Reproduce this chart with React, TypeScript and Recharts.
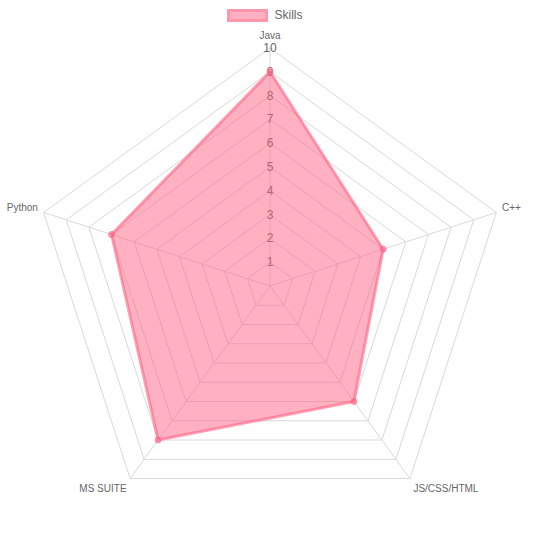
import {
  RadarChart,
  Radar,
  PolarGrid,
  PolarAngleAxis,
  PolarRadiusAxis,
  Legend,
} from 'recharts';

const SKILLS = ['Java', 'C++', 'JS/CSS/HTML', 'MS SUITE', 'Python'];
const SCORES = [9, 5, 6, 8, 7];
const RADIUS_TICKS = [0, 1, 2, 3, 4, 5, 6, 7, 8, 9, 10];

const data = SKILLS.map((skill, i) => ({ skill, score: SCORES[i] }));

const FONT = '"Liberation Sans", Arial, Helvetica, sans-serif';
const CX = 270;
const CY = 286;

// point labels, nudged the way Chart.js places them
function AngleTick(props: any) {
  const { x, y, payload, textAnchor } = props;
  if (textAnchor === 'middle') {
    // top label sits just above the outer tick
    return (
      <text
        x={x}
        y={y - 5}
        textAnchor="middle"
        dominantBaseline="central"
        fontSize={10}
        fontFamily={FONT}
        fill="#666"
      >
        {payload.value}
      </text>
    );
  }
  // pull side labels 2px toward the centre
  const len = Math.hypot(x - CX, y - CY) || 1;
  const px = x - ((x - CX) / len) * 2;
  const py = y - ((y - CY) / len) * 2;
  const dy = py > 400 ? 5 : -3;
  return (
    <text
      x={px}
      y={py + dy}
      textAnchor={textAnchor}
      dominantBaseline="central"
      fontSize={10}
      fontFamily={FONT}
      fill="#666"
    >
      {payload.value}
    </text>
  );
}

// Chart.js paints the tick labels under the dataset, so the inner ones look tinted
function RadiusTick(props: any) {
  const { x, y, payload } = props;
  if (payload.value === 0) return <g />;
  const inside = payload.value <= 9;
  return (
    <text
      x={x}
      y={y}
      textAnchor="middle"
      dominantBaseline="central"
      fontSize={12}
      fontFamily={FONT}
      fill={inside ? '#b26475' : '#666'}
    >
      {payload.value}
    </text>
  );
}

function LegendContent() {
  return (
    <div
      style={{
        display: 'flex',
        alignItems: 'center',
        justifyContent: 'center',
        fontFamily: FONT,
        fontSize: 12,
        color: '#666',
        height: 30,
        paddingRight: 10,
      }}
    >
      <span
        style={{
          display: 'inline-block',
          width: 41,
          height: 13,
          background: 'rgba(255,99,132,0.5)',
          border: '3px solid rgba(255,99,132,0.35)',
          boxSizing: 'border-box',
          marginRight: 6,
        }}
      />
      Skills
    </div>
  );
}

export default function App() {
  return (
    <div style={{ position: 'absolute', left: 0, top: 0 }}>
      <RadarChart
        width={540}
        height={540}
        data={data}
        cx={CX}
        cy={CY}
        outerRadius={238}
        margin={{ top: 0, right: 0, bottom: 0, left: 0 }}
      >
        <PolarGrid gridType="polygon" stroke="#d9d9d9" radialLines={true} />
        <PolarAngleAxis dataKey="skill" tick={<AngleTick />} tickLine={false} axisLine={false} />
        <PolarRadiusAxis
          angle={90}
          domain={[0, 10]}
          ticks={RADIUS_TICKS as any}
          tickCount={11}
          axisLine={false}
          tick={<RadiusTick />}
        />
        <Radar
          name="Skills"
          dataKey="score"
          stroke="rgba(255,99,132,0.6)"
          strokeWidth={3}
          fill="rgba(255,99,132,0.5)"
          fillOpacity={1}
          dot={{ r: 3, fill: 'rgba(255,99,132,0.6)', stroke: 'rgba(255,99,132,0.6)', strokeWidth: 1 }}
          isAnimationActive={false}
        />
        <Legend
          verticalAlign="top"
          content={<LegendContent />}
          wrapperStyle={{ top: 0, left: 0, width: 540 }}
        />
      </RadarChart>
    </div>
  );
}
